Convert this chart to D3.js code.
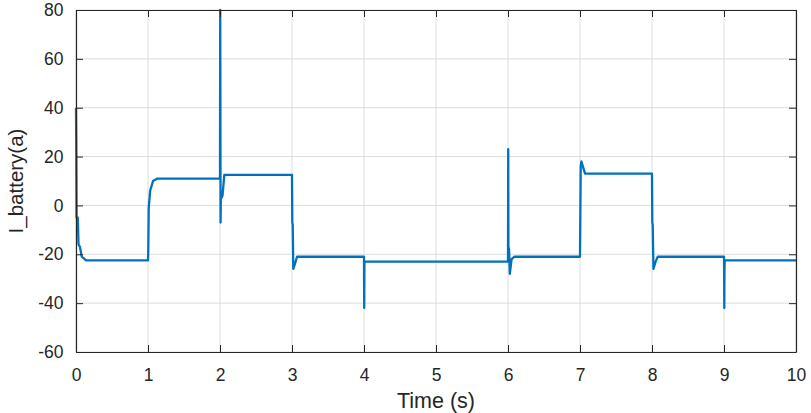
<!DOCTYPE html>
<html>
<head>
<meta charset="utf-8">
<script src="https://cdn.jsdelivr.net/npm/d3@7"></script>
<style>
  body { margin: 0; background: #fff; }
  svg { display: block; }
  .tick text { font-family: "Liberation Sans", Arial, sans-serif; font-size: 17.5px; fill: #262626; }
  .label { font-family: "Liberation Sans", Arial, sans-serif; fill: #262626; }
</style>
</head>
<body>
<svg id="chart" width="811" height="413"></svg>
<script>
// breakpoints of the battery current trace
const times = [
  0, 0.004, 0.008, 0.025, 0.035, 0.055, 0.08, 0.14, 1.0,
  1.004, 1.01, 1.03, 1.07, 1.13, 2.0,
  2.003, 2.005, 2.008, 2.012, 2.02, 2.035, 2.06, 3.0,
  3.004, 3.01, 3.018, 3.04, 3.07, 4.0,
  4.003, 4.006, 6.0,
  6.003, 6.006, 6.015, 6.025, 6.05, 6.09, 7.0,
  7.01, 7.02, 7.04, 7.07, 8.0,
  8.004, 8.01, 8.02, 8.05, 8.08, 9.0,
  9.002, 9.004, 9.006, 9.009, 9.02, 10.0
];
const current = [
  40, 24, -5, -5, -16, -17, -21, -22.5, -22.5,
  -18, -1, 6, 10, 11, 11,
  80, 53, -7, 4, 3, 4, 12.5, 12.5,
  -7, -8, -26, -24, -21, -21,
  -42, -23, -23,
  23, -17, -18, -28, -22, -21, -21,
  16, 18, 16, 13, 13,
  -7, -8, -26, -23, -21, -21,
  -28, -42, -28, -23, -22.5, -22.5
];
const xTicks = [0, 1, 2, 3, 4, 5, 6, 7, 8, 9, 10];
const yTicks = [-60, -40, -20, 0, 20, 40, 60, 80];

const margin = { left: 76, right: 15, top: 10, bottom: 61 };
const width = 811, height = 413;

let svg = d3.select("#chart");

let x = d3.scaleLinear().domain([0, 10]).range([margin.left, width - margin.right]);
let y = d3.scaleLinear().domain([-60, 80]).range([height - margin.bottom, margin.top]);

// grid
let grid = svg.append("g");
grid.selectAll("line.gx").data(xTicks).join("line")
    .attr("x1", d => x(d)).attr("x2", d => x(d))
    .attr("y1", y(80)).attr("y2", y(-60))
    .attr("stroke", "#dcdcdc").attr("stroke-width", 1);
grid.selectAll("line.gy").data(yTicks).join("line")
    .attr("x1", x(0)).attr("x2", x(10))
    .attr("y1", d => y(d)).attr("y2", d => y(d))
    .attr("stroke", "#dcdcdc").attr("stroke-width", 1);

// trace
let data = times.map((t, i) => ({ t: t, v: current[i] }));
let line = d3.line().x(d => x(d.t)).y(d => y(d.v));
svg.append("path")
    .datum(data)
    .attr("d", line)
    .attr("fill", "none")
    .attr("stroke", "#0072BD")
    .attr("stroke-width", 2.3)
    .attr("stroke-linejoin", "round");

// axes (box with inward ticks), plain hyphen for negatives
let fmt = d => String(d);
let xAxis = d3.axisBottom(x).tickValues(xTicks).tickSizeInner(-7).tickSizeOuter(0).tickPadding(16.5).tickFormat(fmt);
let yAxis = d3.axisLeft(y).tickValues(yTicks).tickSizeInner(-7).tickSizeOuter(0).tickPadding(12.5).tickFormat(fmt);

let gx = svg.append("g").attr("transform", "translate(0," + y(-60) + ")").call(xAxis);
let gy = svg.append("g").attr("transform", "translate(" + x(0) + ",0)").call(yAxis);
let gxTop = svg.append("g").attr("transform", "translate(0," + y(80) + ")")
    .call(d3.axisTop(x).tickValues(xTicks).tickSizeInner(-7).tickSizeOuter(0).tickFormat(""));
let gyRight = svg.append("g").attr("transform", "translate(" + x(10) + ",0)")
    .call(d3.axisRight(y).tickValues(yTicks).tickSizeInner(-7).tickSizeOuter(0).tickFormat(""));

[gx, gy, gxTop, gyRight].forEach(g => {
    g.select(".domain").attr("stroke", "#262626").attr("stroke-width", 1.2);
    g.selectAll(".tick line").attr("stroke", "#262626").attr("stroke-width", 1);
});

// labels
svg.append("text")
    .attr("class", "label")
    .attr("x", (x(0) + x(10)) / 2)
    .attr("y", 408)
    .attr("font-size", "21.5px")
    .attr("text-anchor", "middle")
    .text("Time (s)");
svg.append("text")
    .attr("class", "label")
    .attr("font-size", "20.5px")
    .attr("transform", "translate(23," + ((y(80) + y(-60)) / 2) + ") rotate(-90)")
    .attr("text-anchor", "middle")
    .text("I_battery(a)");
</script>
</body>
</html>
